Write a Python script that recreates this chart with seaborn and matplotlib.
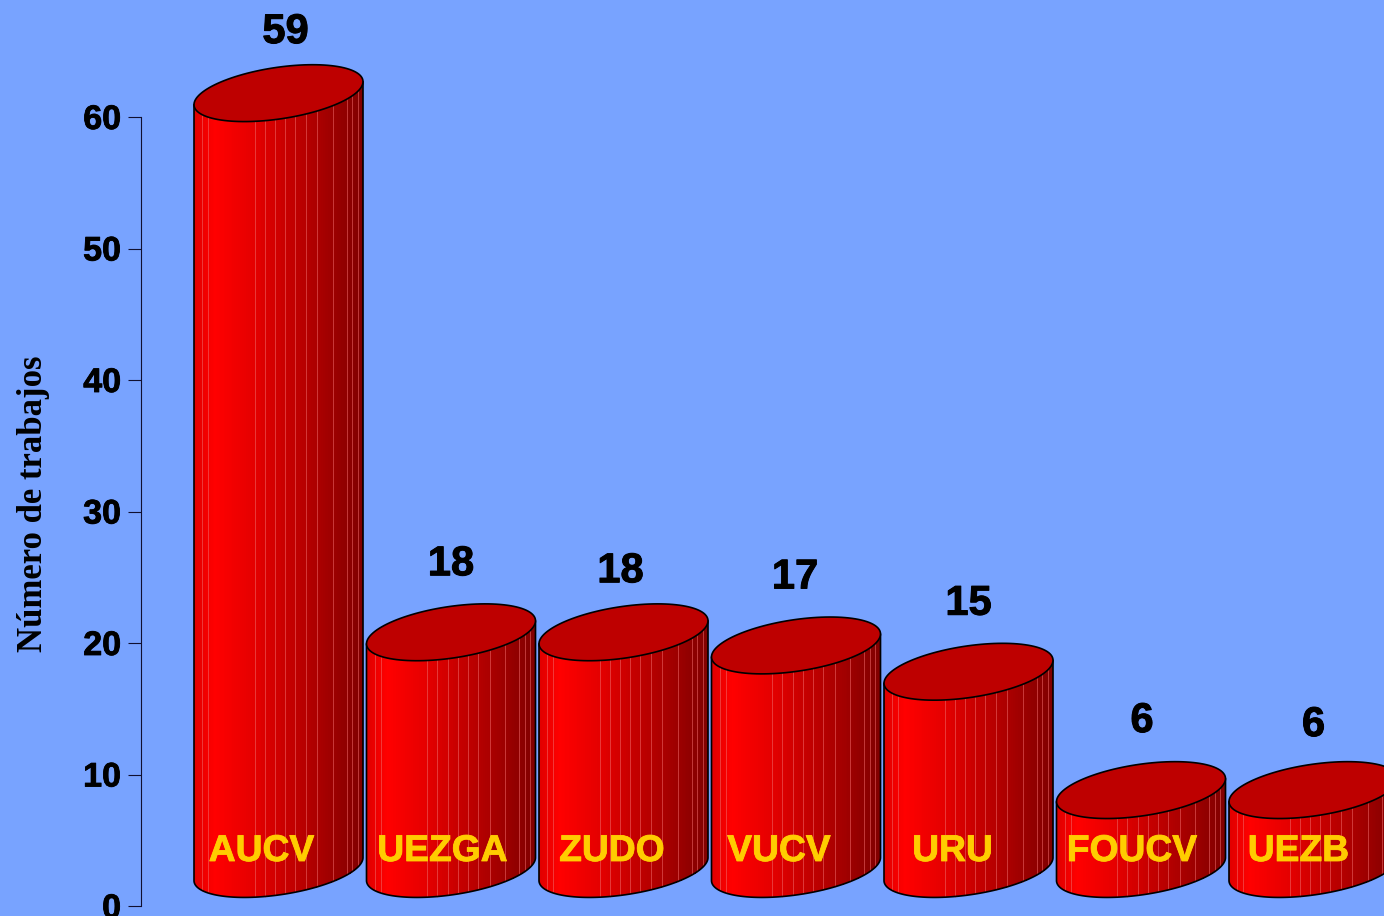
#!/bin/python3
import matplotlib
matplotlib.use('Agg')
import matplotlib.patheffects as pe
import matplotlib.pyplot as plt
import numpy as np
import seaborn as sns
from matplotlib.colors import LinearSegmentedColormap

categorias = ['AUCV', 'UEZGA', 'ZUDO', 'VUCV', 'URU', 'FOUCV', 'UEZB']
valores = [59, 18, 18, 17, 15, 6, 6]
ticks_y = [0, 10, 20, 30, 40, 50, 60]

FONDO = '#78A3FF'
TAPA = '#BE0000'
AMARILLO = '#FFCC00'

# escala del original, en pixeles
PX_Y = 13.15
PX_X = 172.5
BASE = 37 / PX_Y       # la base del cilindro va por encima del cero
ELIPSE_B = 26 / PX_Y
ELIPSE_K = 11.5 / PX_Y

# pequeños desplazamientos de las etiquetas, en pixeles
AJUSTE_NUM_X = [7, 0, -3, -1, 0, 1, 0]
AJUSTE_NUM_Y = [50, 57, 50, 57, 57, 58, 54]
AJUSTE_CAT_X = [-17, -8.5, -11.5, -17, -16, -9, -15]

# lineas verticales de las caras del cilindro (fraccion del ancho)
ARISTAS = [0.05, 0.085, 0.36, 0.42, 0.48, 0.54, 0.60, 0.66, 0.73, 0.82, 0.905, 0.935, 0.97]

degradado = LinearSegmentedColormap.from_list('cilindro', [
    (0.0, '#E00000'), (0.12, '#FF0000'), (0.36, '#E40000'),
    (0.70, '#B00000'), (1.0, '#800000')])


def curva(x, cx, mitad, signo):
    # borde de la elipse inclinada: signo -1 delante, +1 detras
    u = np.clip((x - cx) / mitad, -1, 1)
    return signo * ELIPSE_B * np.sqrt(1 - u ** 2) + ELIPSE_K * u


def dibuja_cilindro(ax, izq, ancho, alto):
    cx = izq + ancho / 2
    mitad = ancho / 2

    # cara frontal con degradado
    xs = cx + mitad * np.cos(np.linspace(np.pi, 2 * np.pi, 121))
    delante = curva(xs, cx, mitad, -1)
    malla_x = np.vstack([xs, xs])
    malla_y = np.vstack([BASE + delante, BASE + alto + delante])
    medios = ((xs[:-1] + xs[1:]) / 2 - izq) / ancho
    ax.pcolormesh(malla_x, malla_y, medios[np.newaxis, :], cmap=degradado,
                  vmin=0, vmax=1, shading='flat', zorder=2)

    for f in ARISTAS:
        x = izq + f * ancho
        ax.plot([x, x], [BASE + curva(x, cx, mitad, -1), BASE + alto + curva(x, cx, mitad, -1)],
                color='#F06A6A', alpha=0.55, linewidth=0.7, zorder=3)

    ax.plot(np.r_[xs[0], xs, xs[-1]],
            np.r_[BASE + alto + delante[0], BASE + delante, BASE + alto + delante[-1]],
            color='black', linewidth=1.2, zorder=4)

    t = np.linspace(0, 2 * np.pi, 120)
    ax.fill(cx + mitad * np.cos(t),
            BASE + alto + ELIPSE_B * np.sin(t) + ELIPSE_K * np.cos(t),
            facecolor=TAPA, edgecolor='black', linewidth=1.2, zorder=5)


def engorda(texto, grosor, color):
    # el original tiene la letra algo mas gruesa que la negrita normal
    texto.set_path_effects([pe.withStroke(linewidth=grosor, foreground=color)])


sns.set_theme(style='ticks')
plt.rcParams['font.family'] = ['Liberation Sans', 'DejaVu Sans']

fig = plt.figure(figsize=(13.84, 9.16), dpi=100, facecolor=FONDO)
ax = fig.add_axes([141 / 1384, 10 / 916, 1243 / 1384, 906 / 916], facecolor=FONDO)

posiciones = np.arange(len(categorias))
sns.barplot(x=posiciones, y=valores, width=169 / PX_X, color='red',
            native_scale=True, ax=ax)

barras = list(ax.patches)
for i, barra in enumerate(barras):
    barra.set_visible(False)
    dibuja_cilindro(ax, barra.get_x(), barra.get_width(), barra.get_height())

    centro = barra.get_x() + barra.get_width() / 2
    num = ax.text(centro + AJUSTE_NUM_X[i] / PX_X,
                  BASE + valores[i] + AJUSTE_NUM_Y[i] / PX_Y,
                  str(valores[i]), ha='center', va='baseline', fontsize=30,
                  fontweight='bold', color='black', zorder=6, clip_on=False)
    engorda(num, 0.7, 'black')
    cat = ax.text(centro + AJUSTE_CAT_X[i] / PX_X, 45 / PX_Y, categorias[i],
                  ha='center', va='baseline', fontsize=26.8, fontweight='bold',
                  color=AMARILLO, zorder=6)
    engorda(cat, 0.6, AMARILLO)

ax.set_xlim(-137.5 / PX_X, 1105.5 / PX_X)
ax.set_ylim(0, 906 / PX_Y)
ax.set_xticks([])
ax.set_yticks(ticks_y)
ax.tick_params(axis='y', length=9.4, width=0.8, pad=5, color='#101030', labelsize=24.5)
for etiqueta in ax.get_yticklabels():
    etiqueta.set_fontweight('bold')
    etiqueta.set_color('black')
    engorda(etiqueta, 0.6, 'black')

ax.spines['top'].set_visible(False)
ax.spines['right'].set_visible(False)
ax.spines['bottom'].set_visible(False)
ax.spines['left'].set_bounds(0, 60)
ax.spines['left'].set_linewidth(0.8)
ax.spines['left'].set_color('#101030')

ax.set_ylabel('Número de trabajos', fontsize=25, fontweight='bold',
              family=['Liberation Serif', 'DejaVu Serif'], color='black')
ax.yaxis.set_label_coords((34 - 141) / 1243, (906 - 504) / 906)
ax.yaxis.label.set_va('center')

fig.savefig('out.png', dpi=100, facecolor=FONDO)
plt.close(fig)
